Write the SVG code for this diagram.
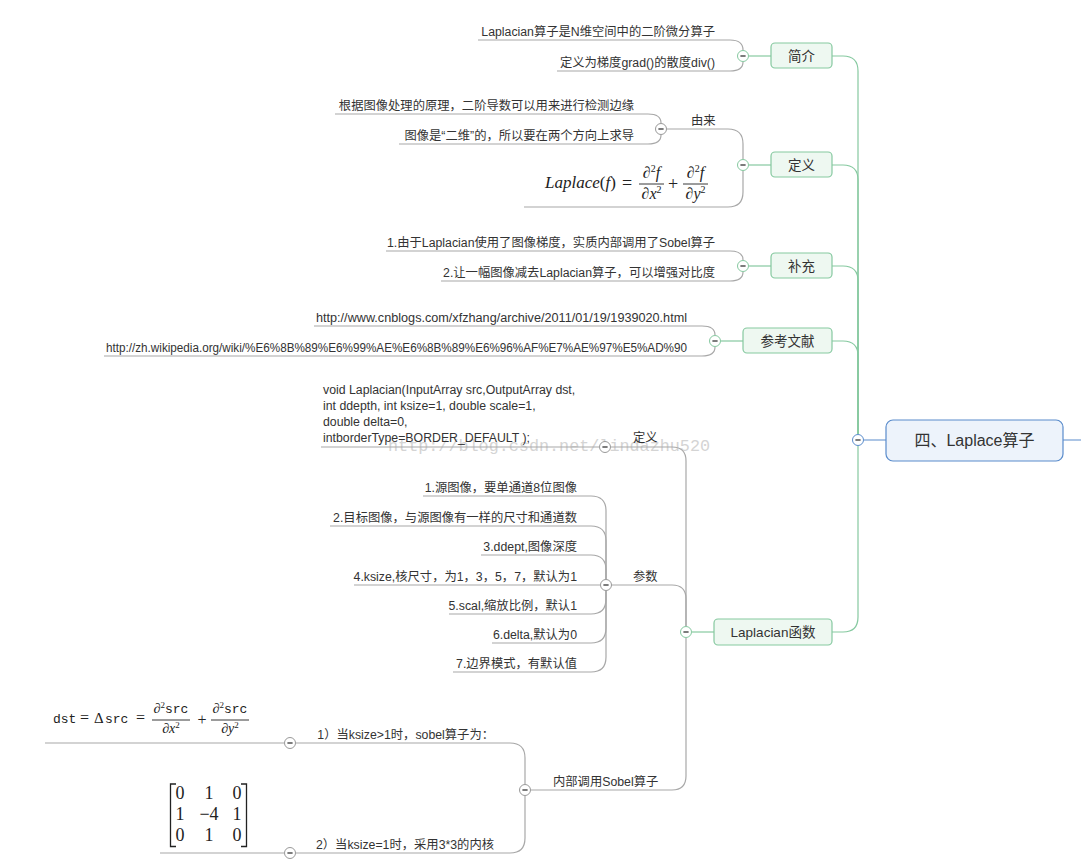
<svg xmlns="http://www.w3.org/2000/svg" width="1081" height="867" viewBox="0 0 1081 867">
<defs>
<style>
.t{font-family:"Liberation Sans","Noto Sans CJK SC",sans-serif;font-size:12.3px;fill:#333}
.e{text-anchor:end}
.bx{font-family:"Liberation Sans","Noto Sans CJK SC",sans-serif;font-size:13.5px;fill:#333;text-anchor:middle}
.gb{fill:#eef8f1;stroke:#86c9a0;stroke-width:1.2}
.gl{fill:none;stroke:#86c9a0;stroke-width:1.2}
.ln{fill:none;stroke:#a8a8a8;stroke-width:1.2}
.cg{fill:#fff;stroke:#86c9a0;stroke-width:1}
.cc{fill:#fff;stroke:#999;stroke-width:1}
.cb{fill:#fff;stroke:#5a8ccc;stroke-width:1}
.d{stroke:#444;stroke-width:1.4}
.m{font-family:"Liberation Serif","DejaVu Serif",serif;fill:#222}
.mi{font-style:italic}
.mono{font-family:"Liberation Mono","DejaVu Sans Mono",monospace}
.fr{stroke:#222;stroke-width:0.9}
.wm{font-family:"Liberation Mono","DejaVu Sans Mono",monospace;font-size:17px;fill:#d4d4d4}
</style>
<symbol id="col" viewBox="-6 -6 12 12" overflow="visible"><line x1="-2.6" y1="0" x2="2.6" y2="0" class="d"/></symbol>
</defs>
<rect width="1081" height="867" fill="#fff"/>
<text class="wm" x="388" y="451" textLength="322" lengthAdjust="spacingAndGlyphs">http://blog.csdn.net/lindazhu520</text>

<g id="connectors">
<path class="gl" d="M832 56 H843 Q858 56 858 71 V434"/>
<path class="gl" d="M832 165 H843 Q858 165 858 180 V434"/>
<path class="gl" d="M832 266 H843 Q858 266 858 281 V434"/>
<path class="gl" d="M832 341 H843 Q858 341 858 356 V434"/>
<path class="gl" d="M832 632 H843 Q858 632 858 617 V446"/>
<path d="M864 440 H886 M1063 440 H1081" fill="none" stroke="#5a8ccc" stroke-width="1.2"/>
<path class="gl" d="M749 56 H771"/>
<path class="ln" d="M478 40 H730 Q743 40 743 50"/>
<path class="ln" d="M557 71 H730 Q743 71 743 62"/>
<path class="gl" d="M749 165 H771"/>
<path class="ln" d="M667 129 H728 Q743 129 743 144 V159"/>
<path class="ln" d="M524 207 H728 Q743 207 743 192 V171"/>
<path class="ln" d="M335 114 H648 Q661 114 661 123"/>
<path class="ln" d="M399 144 H648 Q661 144 661 135"/>
<path class="gl" d="M749 266 H771"/>
<path class="ln" d="M386 251 H730 Q743 251 743 260"/>
<path class="ln" d="M441 281 H730 Q743 281 743 272"/>
<path class="gl" d="M721 341 H743"/>
<path class="ln" d="M314 326 H702 Q715 326 715 335"/>
<path class="ln" d="M104 356 H702 Q715 356 715 347"/>
<path class="gl" d="M692 632 H714"/>
<path class="ln" d="M611 447 H672 Q686 447 686 461 V626"/>
<path class="ln" d="M611 585 H672 Q686 585 686 599 V626"/>
<path class="ln" d="M531 790 H672 Q686 790 686 776 V638"/>
<path class="ln" d="M321 447 H599"/>
<path class="ln" d="M423 496 H591 Q606 496 606 511 V579"/>
<path class="ln" d="M330 526 H591 Q606 526 606 541 V579"/>
<path class="ln" d="M481 555 H591 Q606 555 606 570 V579"/>
<path class="ln" d="M354 585 H600"/>
<path class="ln" d="M449 614 H591 Q606 614 606 599 V591"/>
<path class="ln" d="M492 643 H591 Q606 643 606 628 V591"/>
<path class="ln" d="M453 672 H591 Q606 672 606 657 V591"/>
<path class="ln" d="M296 743 H510 Q525 743 525 758 V784"/>
<path class="ln" d="M296 853 H510 Q525 853 525 838 V796"/>
<path class="ln" d="M45 743 H284"/>
<path class="ln" d="M160 853 H284"/>
</g>

<g id="root">
<rect x="886" y="420" width="177" height="41" rx="7" fill="#edf3fb" stroke="#5a8ccc" stroke-width="1.2"/>
<text x="974.5" y="446" font-family="'Liberation Sans','Noto Sans CJK SC',sans-serif" font-size="16" fill="#333" text-anchor="middle">四、Laplace算子</text>
<circle class="cb" cx="858" cy="440" r="5.5"/><use href="#col" x="852" y="434" width="12" height="12"/>
</g>

<g id="jianjie">
<rect class="gb" x="771" y="43" width="61" height="25" rx="4"/>
<text class="bx" x="801.5" y="60.5">简介</text>
<circle class="cg" cx="743" cy="56" r="5.5"/><use href="#col" x="737" y="50" width="12" height="12"/>
<text class="t e" x="715" y="36">Laplacian算子是N维空间中的二阶微分算子</text>
<text class="t e" x="715" y="67">定义为梯度grad()的散度div()</text>
</g>

<g id="dingyi">
<rect class="gb" x="771" y="152" width="61" height="25" rx="4"/>
<text class="bx" x="801.5" y="169.5">定义</text>
<circle class="cg" cx="743" cy="165" r="5.5"/><use href="#col" x="737" y="159" width="12" height="12"/>
</g>
<g id="youlai">
<text class="t" x="691" y="125">由来</text>
<circle class="cc" cx="661" cy="129" r="5.5"/><use href="#col" x="655" y="123" width="12" height="12"/>
<text class="t e" x="634" y="110">根据图像处理的原理，二阶导数可以用来进行检测边缘</text>
<text class="t e" x="634" y="140">图像是“二维”的，所以要在两个方向上求导</text>
</g>
<g id="formula-laplace" class="m">
<text x="545" y="188" font-size="17"><tspan class="mi">Laplace</tspan>(<tspan class="mi">f</tspan>)</text>
<text x="622" y="189" font-size="18">=</text>
<line class="fr" x1="639" y1="184" x2="664" y2="184"/>
<text x="651.5" y="178" font-size="16" text-anchor="middle">∂<tspan font-size="10" dy="-6">2</tspan><tspan class="mi" dy="6">f</tspan></text>
<text x="651.5" y="199" font-size="16" text-anchor="middle">∂<tspan class="mi">x</tspan><tspan font-size="10" dy="-6">2</tspan></text>
<text x="673" y="190" font-size="18" text-anchor="middle">+</text>
<line class="fr" x1="683" y1="184" x2="708" y2="184"/>
<text x="695.5" y="178" font-size="16" text-anchor="middle">∂<tspan font-size="10" dy="-6">2</tspan><tspan class="mi" dy="6">f</tspan></text>
<text x="695.5" y="199" font-size="16" text-anchor="middle">∂<tspan class="mi">y</tspan><tspan font-size="10" dy="-6">2</tspan></text>
</g>

<g id="buchong">
<rect class="gb" x="771" y="253" width="61" height="25" rx="4"/>
<text class="bx" x="801.5" y="270.5">补充</text>
<circle class="cg" cx="743" cy="266" r="5.5"/><use href="#col" x="737" y="260" width="12" height="12"/>
<text class="t e" x="715" y="247">1.由于Laplacian使用了图像梯度，实质内部调用了Sobel算子</text>
<text class="t e" x="715" y="277">2.让一幅图像减去Laplacian算子，可以增强对比度</text>
</g>

<g id="cankao">
<rect class="gb" x="743" y="328" width="89" height="25" rx="4"/>
<text class="bx" x="787.5" y="345.5">参考文献</text>
<circle class="cg" cx="715" cy="341" r="5.5"/><use href="#col" x="709" y="335" width="12" height="12"/>
<text class="t" x="316" y="322" textLength="371" lengthAdjust="spacingAndGlyphs">http://www.cnblogs.com/xfzhang/archive/2011/01/19/1939020.html</text>
<text class="t" x="106" y="352" textLength="581" lengthAdjust="spacingAndGlyphs">http://zh.wikipedia.org/wiki/%E6%8B%89%E6%99%AE%E6%8B%89%E6%96%AF%E7%AE%97%E5%AD%90</text>
</g>

<g id="laplacian-func">
<rect class="gb" x="714" y="619" width="118" height="26" rx="4"/>
<text class="bx" x="773" y="637">Laplacian函数</text>
<circle class="cg" cx="686" cy="632" r="5.5"/><use href="#col" x="680" y="626" width="12" height="12"/>
</g>

<g id="func-def">
<text class="t" x="633" y="442">定义</text>
<circle class="cc" cx="605" cy="447" r="5.5"/><use href="#col" x="599" y="441" width="12" height="12"/>
<text class="t" x="323" y="394">void Laplacian(InputArray src,OutputArray dst,</text>
<text class="t" x="323" y="410">int ddepth, int ksize=1, double scale=1,</text>
<text class="t" x="323" y="426">double delta=0,</text>
<text class="t" x="323" y="442">intborderType=BORDER_DEFAULT );</text>
</g>

<g id="params">
<text class="t" x="633" y="581">参数</text>
<circle class="cc" cx="606" cy="585" r="5.5"/><use href="#col" x="600" y="579" width="12" height="12"/>
<text class="t e" x="577" y="492">1.源图像，要单通道8位图像</text>
<text class="t e" x="577" y="522">2.目标图像，与源图像有一样的尺寸和通道数</text>
<text class="t e" x="577" y="551">3.ddept,图像深度</text>
<text class="t e" x="577" y="581">4.ksize,核尺寸，为1，3，5，7，默认为1</text>
<text class="t e" x="577" y="610">5.scal,缩放比例，默认1</text>
<text class="t e" x="577" y="639">6.delta,默认为0</text>
<text class="t e" x="577" y="668">7.边界模式，有默认值</text>
</g>

<g id="sobel">
<text class="t" x="553" y="786">内部调用Sobel算子</text>
<circle class="cc" cx="525" cy="790" r="5.5"/><use href="#col" x="519" y="784" width="12" height="12"/>
</g>
<g id="sobel-1">
<text class="t e" x="494" y="739">1）当ksize&gt;1时，sobel算子为：</text>
<circle class="cc" cx="290" cy="743" r="5.5"/><use href="#col" x="284" y="737" width="12" height="12"/>
</g>
<g id="formula-dst" class="m">
<text x="53" y="723" font-size="13" class="mono">dst</text>
<text x="80" y="723" font-size="16">=</text>
<text x="94" y="723" font-size="15">Δ</text>
<text x="105" y="723" font-size="13" class="mono">src</text>
<text x="136" y="723" font-size="16">=</text>
<line class="fr" x1="152" y1="720" x2="190" y2="720"/>
<text x="171" y="713" font-size="14" text-anchor="middle">∂<tspan font-size="9" dy="-5">2</tspan><tspan class="mono" font-size="13" dy="5">src</tspan></text>
<text x="171" y="733" font-size="14" text-anchor="middle">∂<tspan class="mi">x</tspan><tspan font-size="9" dy="-5">2</tspan></text>
<text x="202" y="725" font-size="16" text-anchor="middle">+</text>
<line class="fr" x1="211" y1="720" x2="249" y2="720"/>
<text x="230" y="713" font-size="14" text-anchor="middle">∂<tspan font-size="9" dy="-5">2</tspan><tspan class="mono" font-size="13" dy="5">src</tspan></text>
<text x="230" y="733" font-size="14" text-anchor="middle">∂<tspan class="mi">y</tspan><tspan font-size="9" dy="-5">2</tspan></text>
</g>
<g id="sobel-2">
<text class="t e" x="494" y="849">2）当ksize=1时，采用3*3的内核</text>
<circle class="cc" cx="290" cy="853" r="5.5"/><use href="#col" x="284" y="847" width="12" height="12"/>
</g>
<g id="matrix" class="m" font-size="18" text-anchor="middle">
<path d="M176 784 H170.5 V846.5 H176 M241 784 H246.5 V846.5 H241" fill="none" stroke="#222" stroke-width="1.3"/>
<text x="180" y="799">0</text><text x="209" y="799">1</text><text x="237" y="799">0</text>
<text x="180" y="820">1</text><text x="209" y="820">−4</text><text x="237" y="820">1</text>
<text x="180" y="841">0</text><text x="209" y="841">1</text><text x="237" y="841">0</text>
</g>
</svg>
